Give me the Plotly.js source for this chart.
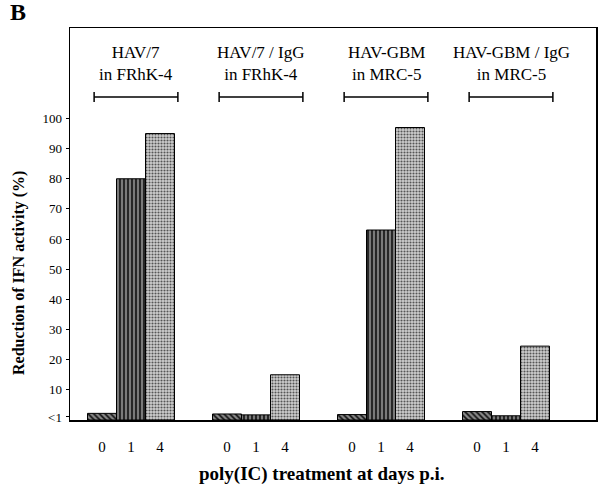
<!DOCTYPE html>
<html>
<head>
<meta charset="utf-8">
<script src="https://cdn.plot.ly/plotly-3.0.1.min.js"></script>
<style>html,body{margin:0;padding:0;background:#fff;}#chart{width:600px;height:493px;}</style>
</head>
<body>
<div id="chart"></div>
<script>
var groupLabels = ["HAV/7<br>in FRhK-4", "HAV/7 / IgG<br>in FRhK-4", "HAV-GBM<br>in MRC-5", "HAV-GBM / IgG<br>in MRC-5"];
var dayLabels = ["0", "1", "4"];
var day0 = [2.2, 2.0, 1.8, 2.8];
var day1 = [80, 1.7, 63, 1.4];
var day4 = [95, 15, 97, 24.5];
var yTickVals = [1, 10, 20, 30, 40, 50, 60, 70, 80, 90, 100];
var yTickText = ["<1", "10", "20", "30", "40", "50", "60", "70", "80", "90", "100"];

var series = [day0, day1, day4];
var barW = 0.232;
var styles = [
  {shape: "\\", fg: "#111", bg: "#8a8a8a", size: 4, sol: 0.45},
  {shape: "|", fg: "#111", bg: "#7a7a7a", size: 4, sol: 0.4},
  {shape: ".", fg: "#555", bg: "#cfcfcf", size: 3, sol: 0.4}
];
var traces = [];
var tickvals = [], ticktext = [];
series.forEach(function (vals, d) {
  var xs = vals.map(function (v, g) { return g + (d - 1) * barW; });
  xs.forEach(function (x) { tickvals.push(x); ticktext.push(dayLabels[d]); });
  traces.push({
    type: "bar", x: xs, y: vals, width: barW, name: dayLabels[d],
    marker: {
      color: styles[d].bg,
      line: {color: "#000", width: 1},
      pattern: {shape: styles[d].shape, fgcolor: styles[d].fg, bgcolor: styles[d].bg, size: styles[d].size, solidity: styles[d].sol}
    },
    hoverinfo: "skip"
  });
});

var serif = "Liberation Serif, Times New Roman, serif";
var shapes = [], annotations = [];
groupLabels.forEach(function (lab, g) {
  var c = g + 0.04, hw = 0.335;
  shapes.push({type: "line", xref: "x", yref: "paper", x0: c - hw, x1: c + hw, y0: 0.824, y1: 0.824, line: {color: "#000", width: 1.5}});
  shapes.push({type: "line", xref: "x", yref: "paper", x0: c - hw, x1: c - hw, y0: 0.811, y1: 0.837, line: {color: "#000", width: 1.5}});
  shapes.push({type: "line", xref: "x", yref: "paper", x0: c + hw, x1: c + hw, y0: 0.811, y1: 0.837, line: {color: "#000", width: 1.5}});
  annotations.push({xref: "x", yref: "paper", x: c, y: 0.852, text: lab, showarrow: false, yanchor: "bottom",
    font: {family: serif, size: 17, color: "#000"}});
});
annotations.push({xref: "paper", yref: "paper", x: -0.097, y: 0.375, xanchor: "center", yanchor: "middle",
  text: "<b>Reduction of IFN activity (%)</b>", textangle: -90,
  showarrow: false, font: {family: serif, size: 16, color: "#000"}});
annotations.push({xref: "paper", yref: "paper", x: 0.479, y: -0.138, xanchor: "center", yanchor: "middle",
  text: "<b>poly(IC) treatment at days p.i.</b>",
  showarrow: false, font: {family: serif, size: 19, color: "#000"}});
annotations.push({xref: "paper", yref: "paper", x: -0.117, y: 1.04, xanchor: "left", yanchor: "middle", text: "<b>B</b>",
  showarrow: false, font: {family: serif, size: 24, color: "#000"}});

var layout = {
  width: 600, height: 493,
  margin: {l: 70, r: 4, t: 28, b: 73},
  paper_bgcolor: "#fff", plot_bgcolor: "#fff",
  barmode: "overlay",
  showlegend: false,
  font: {family: serif, color: "#000"},
  xaxis: {range: [-0.488, 3.72], tickvals: tickvals, ticktext: ticktext, ticks: "", showgrid: false, zeroline: false,
    showline: true, linecolor: "#000", linewidth: 1.5, mirror: true, tickfont: {family: serif, size: 15, color: "#000"}, ticklabelstandoff: 12},
  yaxis: {range: [0, 130], tickvals: yTickVals, ticktext: yTickText, ticks: "outside", ticklen: 3, tickwidth: 1, tickcolor: "#000",
    showgrid: false, zeroline: false, showline: true, linecolor: "#000", linewidth: 1.5, mirror: true,
    tickfont: {family: serif, size: 13, color: "#000"}, ticklabelstandoff: 1},
  shapes: shapes,
  annotations: annotations
};
Plotly.newPlot("chart", traces, layout, {staticPlot: true, displayModeBar: false});
</script>
</body>
</html>
